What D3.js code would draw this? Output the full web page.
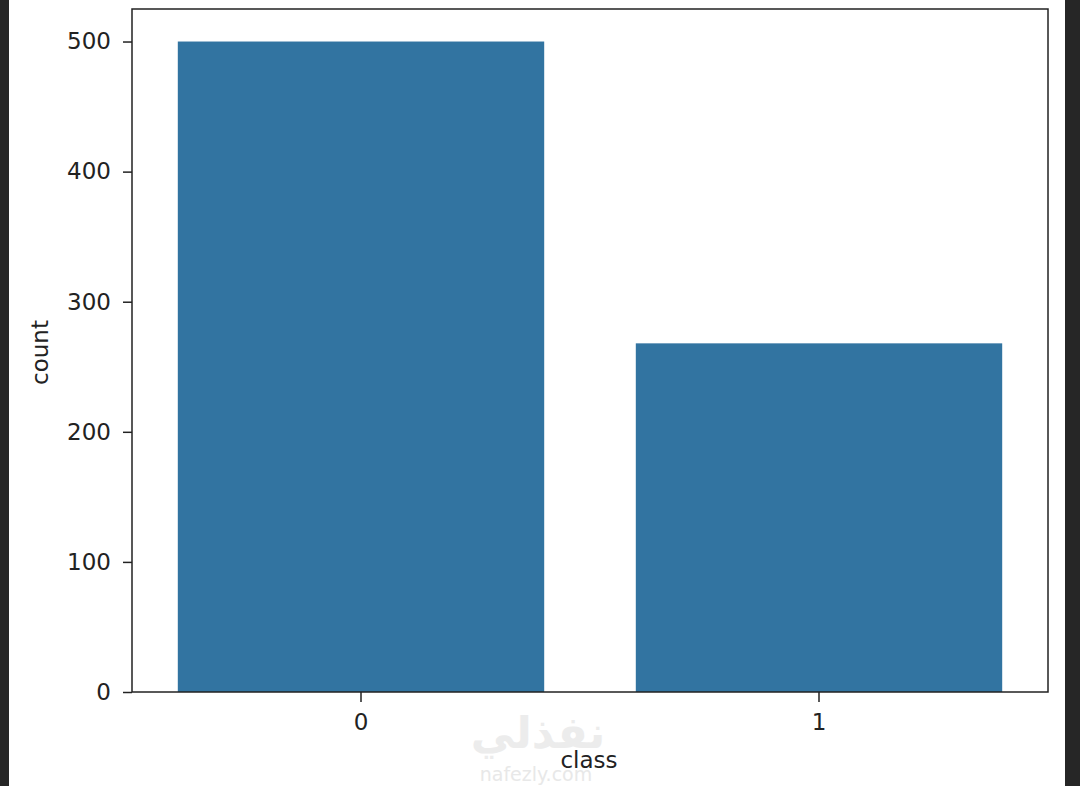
<!DOCTYPE html>
<html><head><meta charset="utf-8">
<script src="https://cdn.jsdelivr.net/npm/d3@7"></script>
<style>html,body{margin:0;padding:0;background:#fff;}svg{display:block;}</style>
</head><body>
<script>
const categories = ["0", "1"];
const counts = [500, 268];
const yTicks = [0, 100, 200, 300, 400, 500];
const xLabel = "class";
const yLabel = "count";

const W = 1080, H = 786;
const m = {left: 132, right: 1048, top: 9, bottom: 692};
const svg = d3.select("body").append("svg").attr("width", W).attr("height", H);
svg.append("rect").attr("width", W).attr("height", H).attr("fill", "#fff");
// dark side edges
svg.append("rect").attr("x", 0).attr("y", 0).attr("width", 9).attr("height", H).attr("fill", "#262626");
svg.append("rect").attr("x", 1065).attr("y", 0).attr("width", 15).attr("height", H).attr("fill", "#262626");

const x = d3.scaleBand().domain(categories).range([m.left, m.right]).paddingInner(0.2).paddingOuter(0.1);
const y = d3.scaleLinear().domain([0, 525]).range([m.bottom, m.top]);

const font = "'DejaVu Sans', sans-serif";
const fs = 23;

svg.selectAll("rect.bar").data(counts).join("rect").attr("class", "bar")
  .attr("x", (d, i) => x(categories[i])).attr("width", x.bandwidth())
  .attr("y", d => y(d)).attr("height", d => y(0) - y(d)).attr("fill", "#3274a1");

const yAxis = svg.append("g").attr("transform", `translate(${m.left},0)`)
  .call(d3.axisLeft(y).tickValues(yTicks).tickSize(9).tickPadding(12));
const xAxis = svg.append("g").attr("transform", `translate(0,${m.bottom})`)
  .call(d3.axisBottom(x).tickSize(10).tickPadding(12));
[yAxis, xAxis].forEach(g => {
  g.select(".domain").remove();
  g.selectAll("line").attr("stroke", "#222").attr("stroke-width", 1.5);
  g.selectAll("text").attr("font-family", font).attr("font-size", fs).attr("fill", "#222");
});

// frame
svg.append("rect").attr("x", m.left).attr("y", m.top)
  .attr("width", m.right - m.left).attr("height", m.bottom - m.top)
  .attr("fill", "none").attr("stroke", "#222").attr("stroke-width", 1.5);

// watermark
svg.append("text").attr("x", 538).attr("y", 748).attr("text-anchor", "middle")
  .attr("font-family", "'DejaVu Sans', sans-serif").attr("font-weight", "bold").attr("font-size", 44)
  .attr("fill", "#ececec").text("نفذلي");
svg.append("text").attr("x", 536).attr("y", 781).attr("text-anchor", "middle")
  .attr("font-family", font).attr("font-size", 19).attr("fill", "#e8e8e8").text("nafezly.com");

svg.append("text").attr("x", 589).attr("y", 768).attr("text-anchor", "middle")
  .attr("font-family", font).attr("font-size", fs).attr("fill", "#222").text(xLabel);
svg.append("text").attr("transform", `translate(48,${(m.top + m.bottom) / 2 + 2}) rotate(-90)`)
  .attr("text-anchor", "middle").attr("font-family", font).attr("font-size", fs).attr("fill", "#222").text(yLabel);
</script>
</body></html>
